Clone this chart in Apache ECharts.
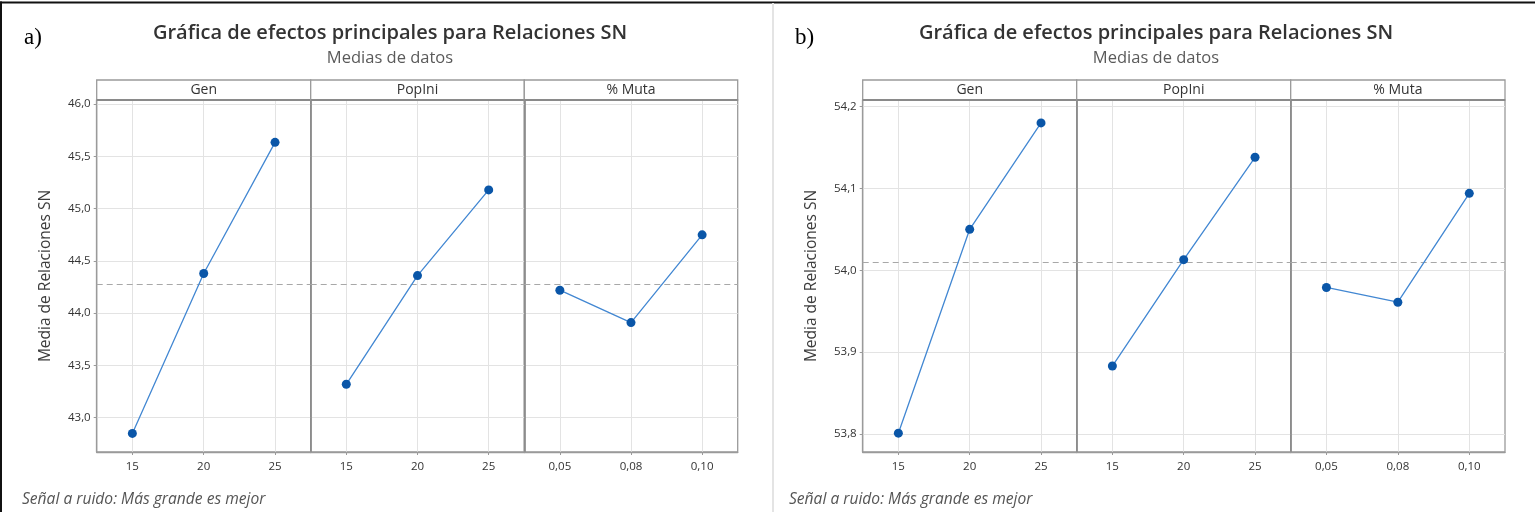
<!DOCTYPE html>
<html>
<head>
<meta charset="utf-8">
<script src="https://cdn.jsdelivr.net/npm/echarts@6/dist/echarts.min.js"></script>
<style>
html,body{margin:0;padding:0;background:#fff;}
#chart{width:1535px;height:512px;}
</style>
</head>
<body>
<div id="chart"></div>
<script>
// ---------- data ----------
const chartTitle = 'Gráfica de efectos principales para Relaciones SN';
const chartSubtitle = 'Medias de datos';
const yAxisName = 'Media de Relaciones SN';
const footNote = 'Señal a ruido: Más grande es mejor';
const panelTags = ['a)', 'b)'];
const factorNames = ['Gen', 'PopIni', '% Muta'];
const genLevels = ['15', '20', '25'];
const popLevels = ['15', '20', '25'];
const mutaLevels = ['0,05', '0,08', '0,10'];

const aGen = [42.85, 44.38, 45.635];
const aPop = [43.32, 44.36, 45.18];
const aMuta = [44.22, 43.91, 44.75];
const aMean = 44.285;
const aYTicks = [43.0, 43.5, 44.0, 44.5, 45.0, 45.5, 46.0];

const bGen = [53.801, 54.050, 54.180];
const bPop = [53.883, 54.013, 54.138];
const bMuta = [53.979, 53.961, 54.094];
const bMean = 54.011;
const bYTicks = [53.8, 53.9, 54.0, 54.1, 54.2];

// ---------- layout ----------
const FONT = '"Open Sans", "Noto Sans", sans-serif';
const plotTop = 100, plotH = 352;
const stripTop = 80;
const charts = [
  { tag: panelTags[0], lefts: [96.7, 310.7, 524.3, 737.7], yMin: 42.672, yMax: 46.04, ticks: aYTicks,
    series: [aGen, aPop, aMuta], mean: aMean, cx: 390, tagX: 24, footX: 22 },
  { tag: panelTags[1], lefts: [862.7, 1076.7, 1290.7, 1505], yMin: 53.778, yMax: 54.208, ticks: bYTicks,
    series: [bGen, bPop, bMuta], mean: bMean, cx: 1156, tagX: 795, footX: 789 }
];
const levelSets = [genLevels, popLevels, mutaLevels];

const grids = [], xAxes = [], yAxes = [], series = [], graphics = [];
const fmtY = v => v.toFixed(1).replace('.', ',');

charts.forEach((c, ci) => {
  for (let p = 0; p < 3; p++) {
    const gi = grids.length;
    const x0 = c.lefts[p], x1 = c.lefts[p + 1];
    grids.push({ left: x0, top: plotTop, width: x1 - x0, height: plotH,
      show: true, borderColor: '#9a9a9a', borderWidth: 1.3, backgroundColor: '#fff' });
    const levels = levelSets[p];
    xAxes.push({
      type: 'value', gridIndex: gi, min: -0.5, max: 2.5,
      axisLine: { show: true, onZero: false, lineStyle: { color: '#9a9a9a', width: 1.3 } },
      axisTick: { show: true, length: 3, customValues: [0, 1, 2], lineStyle: { color: '#9a9a9a' } },
      axisLabel: { customValues: [0, 1, 2], margin: 9, fontSize: 11.5, color: '#333', fontFamily: FONT,
        formatter: v => levels[Math.round(v)] },
      splitLine: { show: true, lineStyle: { color: '#e3e3e3', width: 1 } }
    });
    const first = p === 0;
    yAxes.push({
      type: 'value', gridIndex: gi, min: c.yMin, max: c.yMax,
      name: first ? yAxisName : '', nameLocation: 'middle', nameGap: 43, nameRotate: 90,
      nameTextStyle: { fontSize: 15.5, color: '#3c3c3c', fontFamily: FONT },
      axisLine: { show: true, onZero: false, lineStyle: { color: first ? '#9a9a9a' : '#8a8a8a', width: first ? 1.3 : 1.7 } },
      axisTick: { show: first, length: 3, customValues: c.ticks, lineStyle: { color: '#9a9a9a' } },
      axisLabel: { show: first, customValues: c.ticks, margin: 6, fontSize: 11.5, color: '#333', fontFamily: FONT,
        formatter: fmtY },
      splitLine: { show: true, lineStyle: { color: '#e3e3e3', width: 1 } }
    });
    series.push({
      type: 'line', xAxisIndex: gi, yAxisIndex: gi,
      data: c.series[p].map((v, i) => [i, v]),
      symbol: 'circle', symbolSize: 9,
      lineStyle: { color: '#4287d2', width: 1.3 },
      itemStyle: { color: '#0a56a8' },
      emphasis: { disabled: true }, animation: false, z: 5,
      markLine: { silent: true, symbol: 'none', animation: false,
        label: { show: false },
        lineStyle: { color: '#a8a8a8', type: [6, 4], width: 1.2 },
        data: [{ yAxis: c.mean }] }
    });
    // strip header
    graphics.push({ type: 'rect', shape: { x: x0, y: stripTop, width: x1 - x0, height: plotTop - stripTop },
      style: { fill: '#fff', stroke: '#9a9a9a', lineWidth: 1.3 }, z: 10 });
    graphics.push({ type: 'rect', shape: { x: x0, y: plotTop - 1, width: x1 - x0, height: 2 },
      style: { fill: '#8a8a8a' }, z: 10 });
    graphics.push({ type: 'text', x: (x0 + x1) / 2, y: (stripTop + plotTop) / 2, z: 11,
      style: { text: factorNames[p], fontSize: 14, fontFamily: FONT, fill: '#333', align: 'center', verticalAlign: 'middle' } });
  }
  graphics.push({ type: 'text', x: c.cx, y: 33, z: 11,
    style: { text: chartTitle, fontSize: 20, fontWeight: 600, fontFamily: FONT, fill: '#333', align: 'center', verticalAlign: 'middle' } });
  graphics.push({ type: 'text', x: c.cx, y: 58, z: 11,
    style: { text: chartSubtitle, fontSize: 16.5, fontFamily: FONT, fill: '#5a5a5a', align: 'center', verticalAlign: 'middle' } });
  graphics.push({ type: 'text', x: c.tagX, y: 38, z: 11,
    style: { text: c.tag, fontSize: 23, fontFamily: '"Liberation Serif", serif', fill: '#000', align: 'left', verticalAlign: 'middle' } });
  graphics.push({ type: 'text', x: c.footX, y: 500, z: 11,
    style: { text: footNote, fontSize: 15.6, fontStyle: 'italic', fontFamily: FONT, fill: '#555', align: 'left', verticalAlign: 'middle' } });
});

// frame lines
graphics.push({ type: 'rect', shape: { x: 0, y: 1.5, width: 1535, height: 2 }, style: { fill: '#111' }, z: 12 });
graphics.push({ type: 'rect', shape: { x: 0, y: 1.5, width: 2, height: 512 }, style: { fill: '#111' }, z: 12 });
graphics.push({ type: 'rect', shape: { x: 772, y: 3, width: 2, height: 512 }, style: { fill: '#e4e4e4' }, z: 12 });

const chart = echarts.init(document.getElementById('chart'), null, { renderer: 'canvas' });
chart.setOption({
  backgroundColor: '#fff',
  animation: false,
  grid: grids, xAxis: xAxes, yAxis: yAxes, series: series,
  graphic: { elements: graphics }
});
</script>
</body>
</html>
